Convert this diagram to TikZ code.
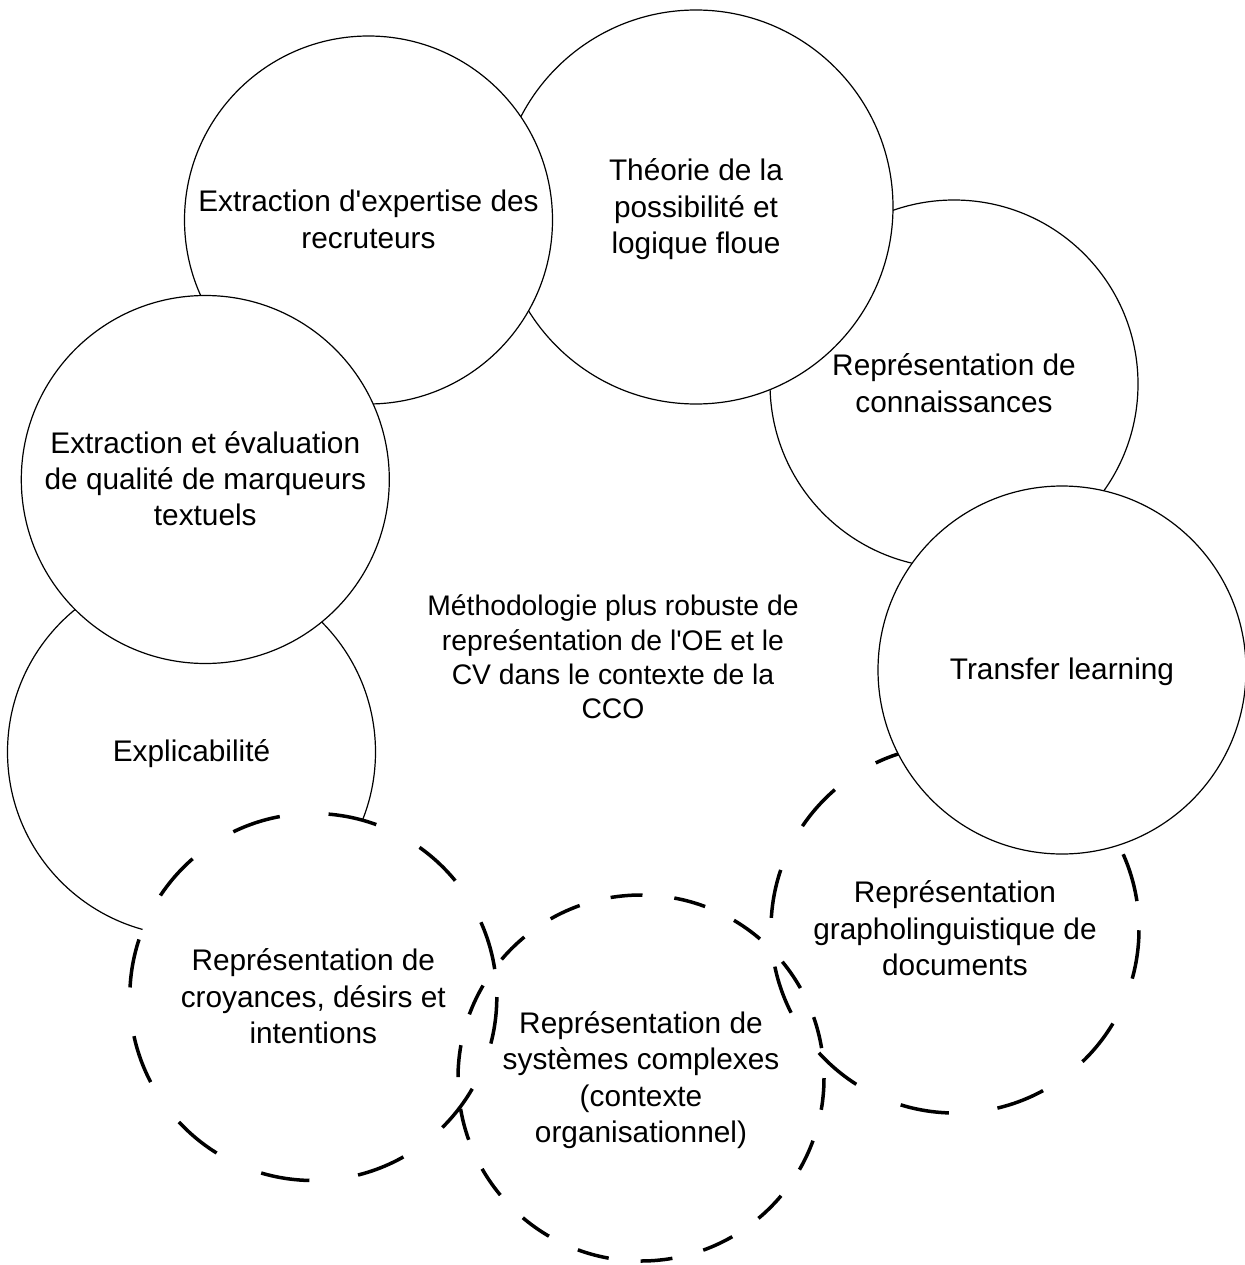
\documentclass[tikz,border=0pt]{standalone}
\usepackage{fontspec}
\setmainfont{Liberation Sans}
\newcommand\bs{\rule[-8.7pt]{0pt}{36.2pt}}
\newcommand\bts{\rule[-8.7pt]{0pt}{37.5pt}}
\newcommand\cs{\rule[-8.3pt]{0pt}{34.3pt}}
\begin{document}
\begin{tikzpicture}[x=1pt,y=-1pt,
  bub/.style={circle, draw=black, line width=1.2pt, fill=white, inner sep=0pt, align=center,
    font=\fontsize{29.8pt}{36.2pt}\selectfont},
  dbub/.style={bub, line width=3.5pt, dash pattern=on 49pt off 49pt, dash phase=70pt},
  sysbub/.style={dbub, fill=none, dash pattern=on 32pt off 32pt, dash phase=34pt},
  centretext/.style={align=center, inner sep=0pt, font=\fontsize{28.3pt}{34.3pt}\selectfont}
]
\useasboundingbox (0,0) rectangle (1244,1265);
\node[bub, minimum size=368pt] (conn) at (954,384) {\bts Représentation de\\connaissances\bs};
\node[bub, minimum size=394pt] (theo) at (696,207) {\bts Théorie de la\\possibilité et\\logique floue\bs};
\node[bub, minimum size=368pt] (expe) at (368.5,220) {\bts Extraction d\textquotesingle expertise des\\recruteurs\bs};
\node[bub, minimum size=368pt] (expl) at (191.5,752) {\bs Explicabilité\bs};
\node[bub, minimum size=368pt] (eval) at (205.3,479.5) {\bts Extraction et évaluation\\de qualité de marqueurs\\textuels\bs};
\node[dbub, minimum size=368pt] (grap) at (955,929) {\bts Représentation\\grapholinguistique de\\documents\bs};
\node[bub, minimum size=368pt] (tran) at (1062,670) {\bs Transfer learning\bs};
\node[dbub, minimum size=367pt] (croy) at (313.3,997) {\bts Représentation de\\croyances, désirs et\\intentions\bs};
\node[sysbub, minimum size=366pt] (syst) at (641,1078) {\bts Représentation de\\systèmes complexes\\(contexte\\organisationnel)\bs};
\node[centretext] (meth) at (613,658.5) {\cs Méthodologie plus robuste de\\repreśentation de l\textquotesingle OE et le\\CV dans le contexte de la\\CCO\cs};
\end{tikzpicture}
\end{document}
